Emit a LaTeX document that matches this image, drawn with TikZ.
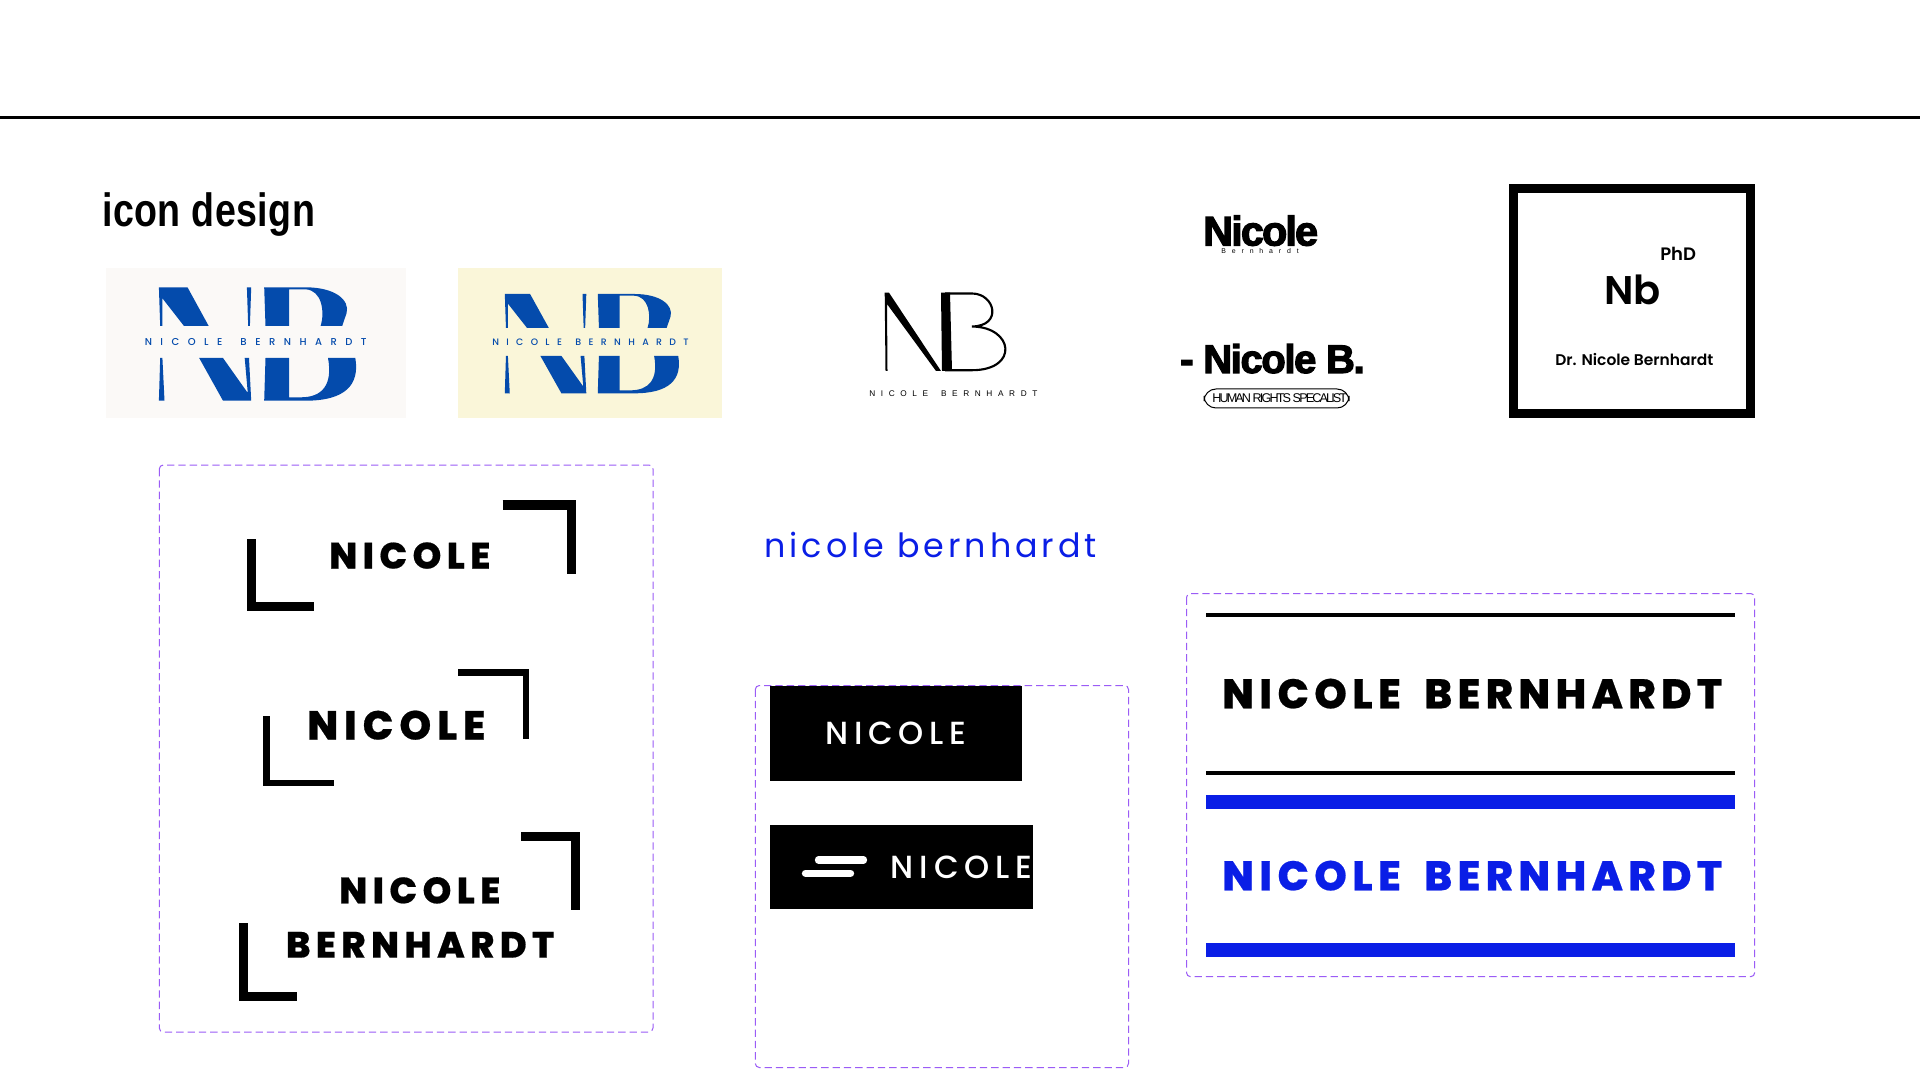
\documentclass[tikz,border=0pt]{standalone}
\usepackage{fontspec}
\setmainfont{Poppins}
\newfontfamily\popextra[FakeBold=0.5]{Poppins ExtraBold}
\newfontfamily\popmed{Poppins Medium}
\newfontfamily\popsemi{Poppins SemiBold}
\newfontfamily\libsans{Liberation Sans}
\newfontfamily\libnarrow[FakeStretch=0.805]{Liberation Sans Bold}
\newfontfamily\libheavy[FakeBold=3]{Liberation Sans Bold}
\newcommand{\setfont}[3]{#1\addfontfeatures{LetterSpace=#3}\fontsize{#2}{#2}\selectfont}

\definecolor{markblue}{HTML}{044BAC}
\definecolor{printblue}{HTML}{0A1EE6}
\definecolor{dashpurple}{HTML}{9B5CF6}
\definecolor{logopaper}{HTML}{FBF9F7}
\definecolor{logocream}{HTML}{FAF6D9}

\tikzset{
	dashbox/.style={draw=dashpurple,line width=0.75pt,dash pattern=on 5.5pt off 3pt,rounded corners=3pt},
	txt/.style={anchor=base west,inner sep=0pt},
	corner/.style={line width=#1,miter limit=10},
	bar/.style={line width=5.5pt,line cap=round,white}
}

\newcommand{\nbmark}{%
	\fill [markblue] (158.9,287.3) -- (187.5,287.3) -- (208.7,326) -- (184,326) -- (162.4,298.3) -- (162.4,326) -- (160.2,326) -- cycle;
	\fill [markblue] (246.9,287.3) -- (251.2,287.3) -- (249.9,326) -- (248.2,326) -- cycle;
	\fill [markblue] (264.2,287.3) -- (305.4,287.3) .. controls (335,287.3) and (350,300) .. (346.6,313) -- (342.2,326) -- (320.6,326) .. controls (325,312) and (322,290) .. (305.4,289.3) -- (289,289.3) -- (289,326) -- (265.5,326) -- cycle;
	\fill [markblue] (160.2,358) -- (162.4,358) -- (164.5,400.7) -- (158.9,400.7) -- cycle;
	\fill [markblue] (199.2,358) -- (223,358) -- (247.8,393) -- (244.7,358) -- (249,358) -- (251.2,400.7) -- (223,400.7) -- cycle;
	\fill [markblue] (265.5,358) -- (289,358) -- (289,397.3) -- (301,397.3) .. controls (322,397.3) and (333,385) .. (328,358) -- (355.3,358) .. controls (360,385) and (345,400.7) .. (305.4,400.7) -- (264.2,400.7) -- cycle;
}

\begin{document}
\begin{tikzpicture}[x=0.75pt,y=0.75pt,yscale=-1,xscale=1]
	\useasboundingbox (0,0) rectangle (1920,1080);
	\fill [white] (0,0) rectangle (1920,1080);

	%Straight Lines
	\draw [line width=2pt] (0,117.5) -- (1920,117.5) ;

	% Text Node
	\node (title) at (102,226.7) [txt,font=\setfont{\libnarrow}{35}{1}] {icon design};

	%Logo panels
	\fill [logopaper] (105.5,268) rectangle (405.8,417.5);
	\fill [logocream] (458,268) rectangle (722,417.5);
	\nbmark
	\begin{scope}[shift={(364.5,42.3)},xscale=0.883,yscale=0.876]
		\nbmark
	\end{scope}
	% Text Node
	\node (logoa) at (144.5,345.5) [txt,text=markblue,font=\setfont{\popmed}{7.5}{85}] {NICOLE\hspace{0.7em} BERNHARDT};
	% Text Node
	\node (logob) at (492,345.5) [txt,text=markblue,font=\setfont{\popmed}{7}{79}] {NICOLE\hspace{0.4em} BERNHARDT};

	%Thin monogram
	\fill (884.7,292.7) -- (889,292.7) -- (941,371) -- (936,371) -- (887,304) -- (887.5,371) -- (885.5,371) -- cycle;
	\fill (941,292.7) -- (950,292.7) -- (952,371) -- (942,371) -- cycle;
	\draw [line width=1.6pt] (945,293.5) -- (972,293.5) .. controls (995,293.5) and (1003,326) .. (972,326.5) .. controls (1014,327) and (1019,370.2) .. (972,370.2) -- (945,370.2) ;
	% Text Node
	\node (monotext) at (869,397) [txt,font=\setfont{\libsans}{6.2}{68}] {NICOLE\hspace{0.6em} BERNHARDT};

	% Text Node
	\node (nicoletop) at (1203,245.5) [txt,font=\setfont{\libheavy}{31}{-4.5}] {Nicole};
	% Text Node
	\node (bernsmall) at (1221,254) [txt,font=\setfont{\libsans}{5.2}{85}] {Bernhardt};
	% Text Node
	\node (nicoleb) at (1180,373) [txt,font=\setfont{\libheavy}{30}{-3.5}] {- Nicole B.};
	\draw [line width=0.75pt,rounded corners=9pt] (1204,389) rectangle (1349,408) ;
	% Text Node
	\node (rights) at (1212,402.5) [txt,font=\setfont{\libsans}{9.5}{-15}] {HUMAN RIGHTS SPECALIST};

	%Square frame
	\draw [line width=6.75pt,miter limit=10] (1513.5,188.5) rectangle (1750.5,413.5) ;
	% Text Node
	\node (phd) at (1660,260.5) [txt,font=\setfont{\popsemi}{13.5}{0}] {PhD};
	% Text Node
	\node (nb) at (1604,305) [txt,font=\setfont{\popsemi}{30}{0}] {Nb};
	% Text Node
	\node (drname) at (1555,365.5) [txt,font=\setfont{\popsemi}{11.6}{0}] {Dr. Nicole Bernhardt};

	%Dashed boxes
	\draw [dashbox] (159.3,465) rectangle (653,1032) ;
	\draw [dashbox] (755.3,685.5) rectangle (1128.5,1067.5) ;
	\draw [dashbox] (1186.5,593.5) rectangle (1754.7,976.7) ;

	%Corner brackets
	\draw [corner=6.8pt] (502.7,505) -- (571.2,505) -- (571.2,574) ;
	\draw [corner=6.8pt] (251.3,539) -- (251.3,606.8) -- (313.7,606.8) ;
	\draw [corner=4.8pt] (458,672.3) -- (526,672.3) -- (526,739) ;
	\draw [corner=4.8pt] (266.5,716) -- (266.5,783.2) -- (334,783.2) ;
	\draw [corner=6.8pt] (521,836.4) -- (575.3,836.4) -- (575.3,910) ;
	\draw [corner=6.8pt] (243.7,923) -- (243.7,996.4) -- (297,996.4) ;

	% Text Node
	\node (nicolea) at (329,568.5) [txt,font=\setfont{\popextra}{27.4}{15}] {NICOLE};
	% Text Node
	\node (nicolec) at (307,739.5) [txt,font=\setfont{\popextra}{30.3}{15}] {NICOLE};
	% Text Node
	\node (nicoled) at (339,903.3) [txt,font=\setfont{\popextra}{27.4}{15}] {NICOLE};
	% Text Node
	\node (berna) at (285.7,957.6) [txt,font=\setfont{\popextra}{27.4}{15}] {BERNHARDT};

	% Text Node
	\node (lower) at (764,557) [txt,text=printblue,font=\setfont{\rmfamily}{25}{12}] {nicole bernhardt};

	%Black tags
	\fill (770,686) rectangle (1022,780.8);
	\fill (770,825) rectangle (1033,909);
	% Text Node
	\node (taga) at (825,744) [txt,text=white,font=\setfont{\popmed}{24}{18}] {NICOLE};
	% Text Node
	\node (tagb) at (890.7,878) [txt,text=white,font=\setfont{\popmed}{24}{18}] {NICOLE};
	\draw [bar] (818.5,860) -- (863.5,860) ;
	\draw [bar] (805.5,873.2) -- (850.5,873.2) ;

	%Rules
	\fill (1206,613) rectangle (1735,617);
	\fill (1206,771) rectangle (1735,775);
	\fill [printblue] (1206,795) rectangle (1735,809);
	\fill [printblue] (1206,943) rectangle (1735,957);
	% Text Node
	\node (namea) at (1222,708.3) [txt,font=\setfont{\popextra}{31}{13.2}] {NICOLE\hspace{0.25em} BERNHARDT};
	% Text Node
	\node (nameb) at (1222,890.3) [txt,text=printblue,font=\setfont{\popextra}{31}{13.2}] {NICOLE\hspace{0.25em} BERNHARDT};
\end{tikzpicture}
\end{document}
